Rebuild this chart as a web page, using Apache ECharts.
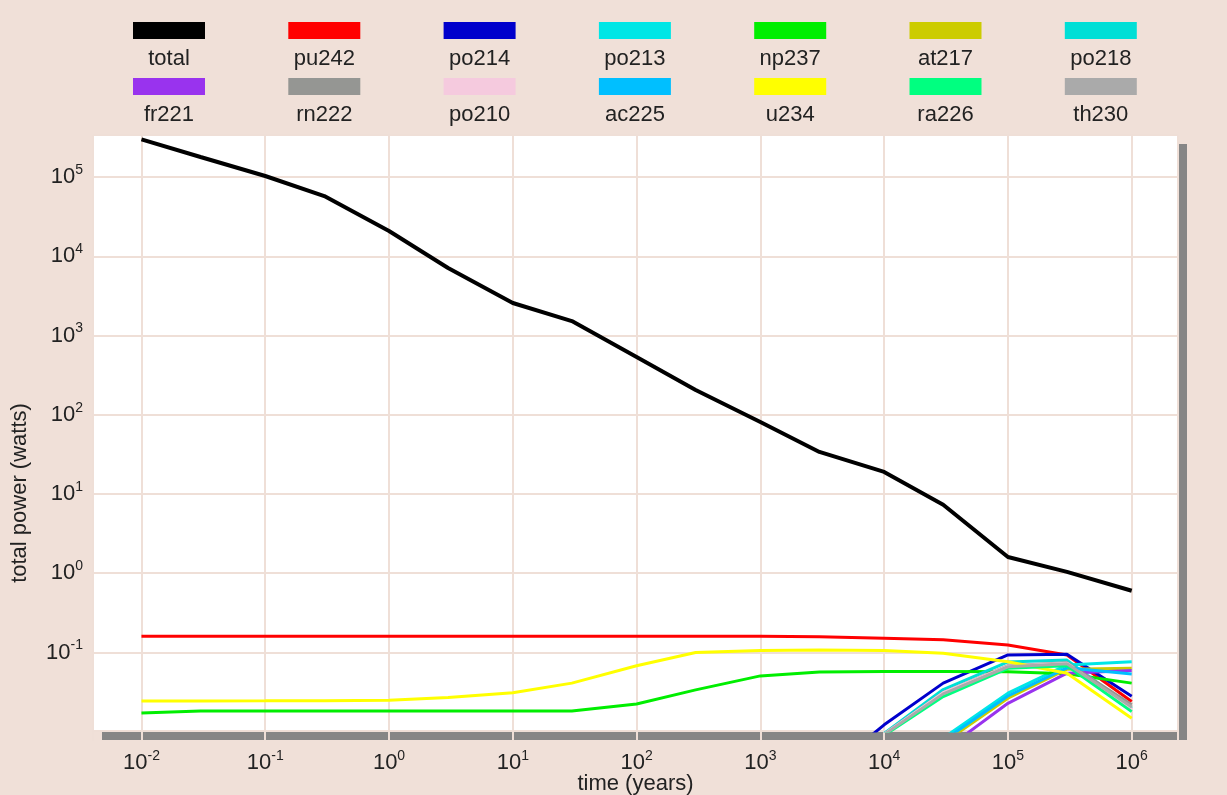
<!DOCTYPE html>
<html><head><meta charset="utf-8">
<script src="https://cdn.jsdelivr.net/npm/echarts@6/dist/echarts.min.js"></script>
<style>html,body{margin:0;padding:0;background:#f0e0d8}#c{width:1227px;height:795px}</style>
</head><body><div id="c"></div>
<script>
const years = [0.01, 0.03, 0.1, 0.3, 1, 3, 10, 30, 100, 300, 1000, 3000, 1e4, 3e4, 1e5, 3e5, 1e6];
const names = ['total','pu242','po214','po213','np237','at217','po218','fr221','rn222','po210','ac225','u234','ra226','th230'];
const colors = ['#000000','#ff0000','#0000cc','#00e6e6','#00ee00','#cccc00','#00dfd6','#9933ee','#959693','#f5cade','#00bfff','#ffff00','#00ff80','#aaaaaa'];
const total = [2.99e5, 1.79e5, 1.03e5, 5.75e4, 2.08e4, 7.1e3, 2.57e3, 1.52e3, 536, 205, 81, 33.9, 19, 7.3, 1.6, 1.04, 0.6];
const pu242 = [0.16,0.16,0.16,0.16,0.16,0.16,0.16,0.16,0.16,0.16,0.16,0.158,0.151,0.145,0.124,0.093,0.024];
const po214 = [null,null,null,null,null,null,null,null,null,null,null,0.0026,0.0122,0.041,0.093,0.095,0.028];
const po213 = [null,null,null,null,null,null,null,null,null,null,null,null,null,0.0083,0.0306,0.0695,0.0765];
const np237 = [0.0172,0.0183,0.0183,0.0183,0.0183,0.0183,0.0183,0.0183,0.0224,0.0337,0.0506,0.0568,0.0573,0.0573,0.057,0.054,0.041];
const at217 = [null,null,null,null,null,null,null,null,null,null,null,null,null,0.0072,0.0264,0.0614,0.0632];
const po218 = [null,null,null,null,null,null,null,null,null,null,null,null,0.0095,0.034,0.076,0.080,0.0198];
const fr221 = [null,null,null,null,null,null,null,null,null,null,null,null,null,0.0057,0.0228,0.0547,0.059];
const rn222 = [null,null,null,null,null,null,null,null,null,null,null,null,0.0093,0.031,0.068,0.074,0.0218];
const po210 = [null,null,null,null,null,null,null,null,null,null,null,null,0.0093,0.031,0.067,0.073,0.019];
const ac225 = [null,null,null,null,null,null,null,null,null,null,null,null,null,0.0077,0.0282,0.064,0.0536];
const u234 = [0.0244,0.0244,0.0245,0.0246,0.025,0.027,0.031,0.041,0.068,0.1,0.106,0.107,0.106,0.098,0.0765,0.0547,0.0148];
const ra226 = [null,null,null,null,null,null,null,null,null,null,null,null,0.009,0.0277,0.063,0.068,0.0179];
const th230 = [null,null,null,null,null,null,null,null,null,null,null,null,0.0092,0.030,0.066,0.072,0.0205];
const seriesValues = [total,pu242,po214,po213,np237,at217,po218,fr221,rn222,po210,ac225,u234,ra226,th230];

const FONT = 'Liberation Sans';
const TXT = '#222';
const GRIDC = '#efdfd7';

function supLabel(v) {
  const e = Math.log10(v);
  const r = Math.round(e);
  if (Math.abs(e - r) > 1e-6) return '';
  return '{b|10}{s|' + r + '}';
}
const labelRich = {
  b: {fontSize: 22, lineHeight: 28, color: TXT, fontFamily: FONT},
  s: {fontSize: 14, lineHeight: 14, verticalAlign: 'top', color: TXT, fontFamily: FONT}
};

const rich = {t: {fontSize: 22, lineHeight: 39, width: 72, align: 'center', color: TXT, fontFamily: FONT}};
colors.forEach((c, i) => { rich['bar' + i] = {width: 72, height: 17, lineHeight: 17, backgroundColor: c}; });

const legends = names.map((n, i) => {
  const row = Math.floor(i / 7), col = i % 7;
  const cx = 168 + 155.3 * col;
  return {
    data: [n], left: cx - 41, top: row === 0 ? 22 : 78,
    itemWidth: 0, itemHeight: 0, itemGap: 0, padding: 0,
    itemStyle: {opacity: 0}, lineStyle: {opacity: 0},
    formatter: name => '{bar' + i + '|}\n{t|' + name + '}',
    textStyle: {rich: rich}
  };
});

const chart = echarts.init(document.getElementById('c'), null, {renderer: 'canvas'});
chart.setOption({
  animation: false,
  backgroundColor: '#f0e0d8',
  textStyle: {fontFamily: FONT},
  legend: legends,
  grid: {left: 93, top: 135, width: 1085, height: 596, show: true, backgroundColor: '#ffffff', borderWidth: 0,
         containLabel: false, outerBoundsMode: 'none',
         shadowColor: '#868686', shadowOffsetX: 9, shadowOffsetY: 9, shadowBlur: 0},
  xAxis: {
    type: 'log', logBase: 10, min: 0.00406, max: 2.366e6,
    name: 'time (years)', nameLocation: 'middle', nameGap: 42, nameMoveOverlap: false,
    nameTextStyle: {fontSize: 22, color: TXT, fontFamily: FONT},
    axisLine: {show: true, lineStyle: {color: GRIDC, width: 2}},
    axisTick: {show: true, length: 10, lineStyle: {color: GRIDC, width: 2}},
    splitLine: {show: true, lineStyle: {color: GRIDC, width: 2}},
    minorTick: {show: false},
    axisLabel: {formatter: supLabel, rich: labelRich, margin: 18, showMinLabel: true, showMaxLabel: true}
  },
  yAxis: {
    type: 'log', logBase: 10, min: 0.0102, max: 3.39e5,
    name: 'total power (watts)', nameLocation: 'middle', nameGap: 62, nameRotate: 90, nameMoveOverlap: false,
    nameTextStyle: {fontSize: 22, color: TXT, fontFamily: FONT, padding: [0, 120, 0, 0]},
    axisLine: {show: false}, axisTick: {show: false},
    splitLine: {show: true, lineStyle: {color: GRIDC, width: 2}},
    axisLabel: {formatter: supLabel, rich: labelRich, margin: 10}
  },
  series: names.map((n, i) => ({
    name: n, type: 'line', showSymbol: false, symbol: 'none', clip: true,
    color: colors[i],
    lineStyle: {width: i === 0 ? 4 : 3, color: colors[i]},
    data: years.map((x, k) => [x, seriesValues[i][k]]).filter(p => p[1] !== null)
  }))
});
</script></body></html>
